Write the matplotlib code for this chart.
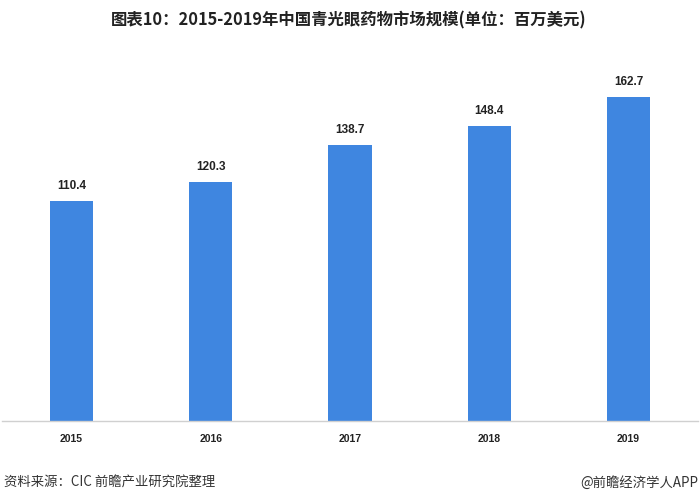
import matplotlib
matplotlib.use("Agg")
import matplotlib.pyplot as plt

plt.rcParams['font.family'] = ['Noto Sans CJK SC', 'DejaVu Sans']

years = ["2015", "2016", "2017", "2018", "2019"]
values = [110.4, 120.3, 138.7, 148.4, 162.7]
title = "图表10：2015-2019年中国青光眼药物市场规模(单位：百万美元)"
source = "资料来源：CIC 前瞻产业研究院整理"
credit = "@前瞻经济学人APP"

fig = plt.figure(figsize=(7.0, 5.04), dpi=100)
ax = fig.add_axes([2/700, 83/504, 696/700, 361/504])
x = range(len(years))
bars = ax.bar(x, values, width=0.31, color="#3F86E0")
ax.set_xlim(-0.5, len(years) - 0.5)
ax.set_ylim(0, 361 / 1.99)
for xi, v in zip(x, values):
    ax.text(xi, v + 4.5, f"{v:.1f}", ha="center", va="bottom", fontsize=8.5,
            fontweight="bold", family=["Liberation Sans", "DejaVu Sans"], color="#222222")
ax.set_xticks(list(x))
ax.set_xticklabels(years, fontsize=7.5, fontweight="bold", family=["Liberation Sans", "DejaVu Sans"], color="#222222")
ax.tick_params(axis="x", length=0, pad=9)
ax.set_yticks([])
for s in ["top", "right", "left"]:
    ax.spines[s].set_visible(False)
ax.spines["bottom"].set_color("#d0d0d0")
ax.spines["bottom"].set_linewidth(1.0)

fig.text(349/700, 1 - 20/504, title, ha="center", va="center", fontsize=11.8, fontweight="bold", color="#222222")
fig.text(4/700, 1 - 483/504, source, ha="left", va="center", fontsize=9.6, color="#333333")
fig.text(698/700, 1 - 483/504, credit, ha="right", va="center", fontsize=9.6, color="#333333")

fig.savefig("out.png", dpi=100)
